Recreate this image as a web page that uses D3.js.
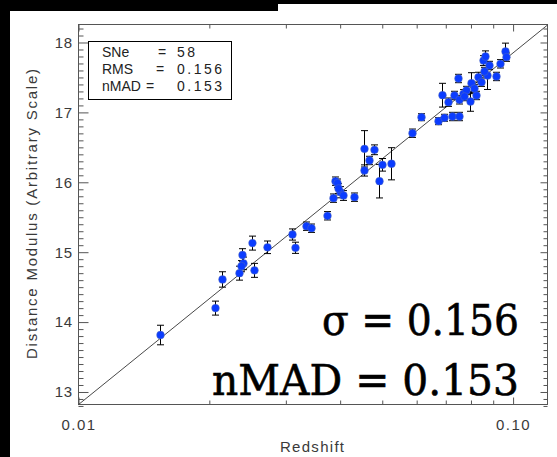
<!DOCTYPE html>
<html>
<head>
<meta charset="utf-8">
<script src="https://cdn.jsdelivr.net/npm/d3@7"></script>
<style>
  html, body { margin: 0; padding: 0; background: #fff; }
  svg { display: block; }
  text { font-family: "Liberation Sans", "DejaVu Sans", sans-serif; }
</style>
</head>
<body>
<svg id="chart" width="557" height="457"></svg>
<script>
// ---- Data ----
const redshift = [
  0.01538, 0.02065, 0.02139, 0.02345, 0.02389, 0.02378, 0.02512, 0.02539, 0.02715, 0.02363,
  0.03105, 0.03149, 0.03342, 0.03431, 0.03730, 0.03842, 0.03898, 0.03933, 0.04002, 0.04059,
  0.04294, 0.04528, 0.04545, 0.04667, 0.04792, 0.04920, 0.04991, 0.05242, 0.03960,
  0.05857, 0.06143, 0.06713, 0.06952, 0.07252, 0.07501, 0.06879, 0.07079, 0.07461, 0.07328,
  0.07501, 0.07661, 0.07798, 0.07976, 0.08018, 0.08233, 0.08307, 0.08454, 0.08531, 0.08636,
  0.08714, 0.08793, 0.09140, 0.09319, 0.09570, 0.09652, 0.07714, 0.08133, 0.08576
];
const distMod = [
  13.815, 14.20, 14.61, 14.70, 14.84, 14.96, 15.13, 14.74, 15.07, 14.80,
  15.253, 15.063, 15.372, 15.343, 15.521, 15.773, 16.016, 15.987, 15.858, 15.811,
  15.787, 16.169, 16.479, 16.312, 16.465, 16.016, 16.25, 16.265, 15.911,
  16.702, 16.931, 16.874, 16.923, 16.941, 16.941, 17.246, 17.146, 17.485, 17.242,
  17.18, 17.266, 17.313, 17.156, 17.418, 17.242, 17.504, 17.432, 17.742, 17.80,
  17.528, 17.671, 17.514, 17.695, 17.871, 17.79, 17.227, 17.342, 17.585
];
const distErr = [
  0.14, 0.10, 0.11, 0.10, 0.09, 0.09, 0.10, 0.10, 0.09, 0.08,
  0.08, 0.08, 0.06, 0.06, 0.06, 0.06, 0.06, 0.06, 0.08, 0.07,
  0.06, 0.08, 0.26, 0.06, 0.07, 0.24, 0.09, 0.23, 0.07,
  0.06, 0.05, 0.05, 0.05, 0.06, 0.06, 0.17, 0.06, 0.06, 0.06,
  0.06, 0.06, 0.06, 0.14, 0.15, 0.06, 0.07, 0.06, 0.07, 0.08,
  0.20, 0.06, 0.06, 0.06, 0.12, 0.06, 0.06, 0.06, 0.06
];
const fitZ = [0.01, 0.12];
const fitMu = [12.82, 18.25];

const xMajorTicks = [0.01, 0.1];
const xMajorLabels = ["0.01", "0.10"];
const xMinorTicks = [0.02, 0.03, 0.04, 0.05, 0.06, 0.07, 0.08, 0.09];
const yMajorTicks = [13, 14, 15, 16, 17, 18];
const yMajorLabels = ["13", "14", "15", "16", "17", "18"];

const legendNames = ["SNe", "RMS", "nMAD"];
const legendValues = ["58", "0.156", "0.153"];
const bigLabels = ["\u03c3 = 0.156", "nMAD = 0.153"];

// ---- Layout ----
const svg = d3.select("#chart");
const L = 78.5, R = 547.5, T = 24.5, B = 404.5;

const x = d3.scaleLog().domain([0.01, 0.12]).range([L, R]);
const y = d3.scaleLinear().domain([12.821, 18.2575]).range([B, T]);

// black margins
svg.append("rect").attr("x", 0).attr("y", 0).attr("width", 557).attr("height", 4).attr("fill", "#000");
svg.append("rect").attr("x", 0).attr("y", 0).attr("width", 278).attr("height", 11).attr("fill", "#000");
svg.append("rect").attr("x", 0).attr("y", 0).attr("width", 10).attr("height", 457).attr("fill", "#000");

const axisColor = "#555";
const labelColor = "#3a3a3a";

const yMinor = d3.range(128, 183).map(v => v / 10).filter(v => !yMajorTicks.includes(v));

function styleAxis(g) {
  g.select(".domain").remove();
  g.selectAll(".tick line").attr("stroke", axisColor);
  g.selectAll(".tick text").attr("fill", labelColor).style("font-size", "15px")
    .style("font-family", '"Liberation Sans", "DejaVu Sans", sans-serif');
}

// left axis
svg.append("g").attr("transform", `translate(${L},0)`)
  .call(d3.axisLeft(y).tickValues(yMajorTicks).tickSize(-10).tickPadding(6)
    .tickFormat((d, i) => yMajorLabels[i]))
  .call(styleAxis)
  .call(g => g.selectAll(".tick text").attr("x", -6).style("letter-spacing", "0.5px"));
svg.append("g").attr("transform", `translate(${L},0)`)
  .call(d3.axisLeft(y).tickValues(yMinor).tickSize(-5).tickFormat(""))
  .call(styleAxis);

// right axis
svg.append("g").attr("transform", `translate(${R},0)`)
  .call(d3.axisRight(y).tickValues(yMajorTicks).tickSize(-7).tickFormat(""))
  .call(styleAxis);
svg.append("g").attr("transform", `translate(${R},0)`)
  .call(d3.axisRight(y).tickValues(yMinor).tickSize(-4).tickFormat(""))
  .call(styleAxis);

// bottom axis
svg.append("g").attr("transform", `translate(0,${B})`)
  .call(d3.axisBottom(x).tickValues(xMajorTicks).tickSize(-7).tickPadding(15)
    .tickFormat((d, i) => xMajorLabels[i]))
  .call(styleAxis)
  .call(g => g.selectAll(".tick text").attr("y", 15).style("letter-spacing", "1.5px"));
svg.append("g").attr("transform", `translate(0,${B})`)
  .call(d3.axisBottom(x).tickValues(xMinorTicks).tickSize(-4).tickFormat(""))
  .call(styleAxis);

// top axis
svg.append("g").attr("transform", `translate(0,${T})`)
  .call(d3.axisTop(x).tickValues(xMajorTicks).tickSize(-7).tickFormat(""))
  .call(styleAxis);
svg.append("g").attr("transform", `translate(0,${T})`)
  .call(d3.axisTop(x).tickValues(xMinorTicks).tickSize(-4).tickFormat(""))
  .call(styleAxis);

// frame
svg.append("rect").attr("x", L).attr("y", T).attr("width", R - L).attr("height", B - T)
  .attr("fill", "none").attr("stroke", axisColor).attr("stroke-width", 1);

// axis titles
svg.append("text")
  .attr("transform", `translate(37,214) rotate(-90)`)
  .attr("text-anchor", "middle")
  .attr("fill", labelColor)
  .style("font-size", "15px")
  .attr("textLength", 290).attr("lengthAdjust", "spacing")
  .text("Distance Modulus (Arbitrary Scale)");

svg.append("text")
  .attr("x", 312).attr("y", 452)
  .attr("text-anchor", "middle")
  .attr("fill", labelColor)
  .style("font-size", "15px")
  .attr("textLength", 64).attr("lengthAdjust", "spacing")
  .text("Redshift");

// fit line
const line = d3.line().x(d => x(d[0])).y(d => y(d[1]));
svg.append("path")
  .datum(fitZ.map((z, i) => [z, fitMu[i]]))
  .attr("d", line)
  .attr("fill", "none").attr("stroke", "#333").attr("stroke-width", 0.9);

// data
const pts = redshift.map((z, i) => ({ z, mu: distMod[i], e: distErr[i] }));
const eb = svg.append("g").attr("stroke", "#000").attr("stroke-width", 1);
pts.forEach(p => {
  const cx = Math.round(x(p.z)) + 0.5;
  const y0 = y(p.mu - p.e), y1 = y(p.mu + p.e);
  eb.append("line").attr("x1", cx).attr("x2", cx).attr("y1", y0).attr("y2", y1);
  eb.append("line").attr("x1", cx - 3.5).attr("x2", cx + 3.5).attr("y1", y0).attr("y2", y0);
  eb.append("line").attr("x1", cx - 3.5).attr("x2", cx + 3.5).attr("y1", y1).attr("y2", y1);
});
svg.append("g").selectAll("circle").data(pts).join("circle")
  .attr("cx", d => Math.round(x(d.z)) + 0.5)
  .attr("cy", d => y(d.mu))
  .attr("r", 3.9)
  .attr("fill", "#0b3cff")
  .attr("stroke", "#6677aa").attr("stroke-width", 0.4);

// legend box
svg.append("rect").attr("x", 88.5).attr("y", 41.5).attr("width", 143).attr("height", 58)
  .attr("fill", "#fff").attr("stroke", "#000").attr("stroke-width", 1);
const legBase = [56.5, 73.5, 90.5];
const eqX = [158, 156, 146];
const valLen = [18, 45, 45];
legendNames.forEach((n, i) => {
  const g = svg.append("g").attr("fill", "#222").style("font-size", "14px");
  g.append("text").attr("x", 102).attr("y", legBase[i]).text(n);
  g.append("text").attr("x", eqX[i]).attr("y", legBase[i]).text("=");
  g.append("text").attr("x", 177).attr("y", legBase[i])
    .attr("textLength", valLen[i]).attr("lengthAdjust", "spacing").text(legendValues[i]);
});

// big labels
const bigBase = [335, 395];
const bigLen = [197, 307];
bigLabels.forEach((t, i) => {
  svg.append("text")
    .attr("x", 519).attr("y", bigBase[i])
    .attr("text-anchor", "end")
    .attr("fill", "#000")
    .attr("stroke", "#000").attr("stroke-width", 0.6)
    .style("font-family", '"DejaVu Serif", serif')
    .style("font-size", "43px")
    .attr("textLength", bigLen[i]).attr("lengthAdjust", "spacingAndGlyphs")
    .text(t);
});
</script>
</body>
</html>
